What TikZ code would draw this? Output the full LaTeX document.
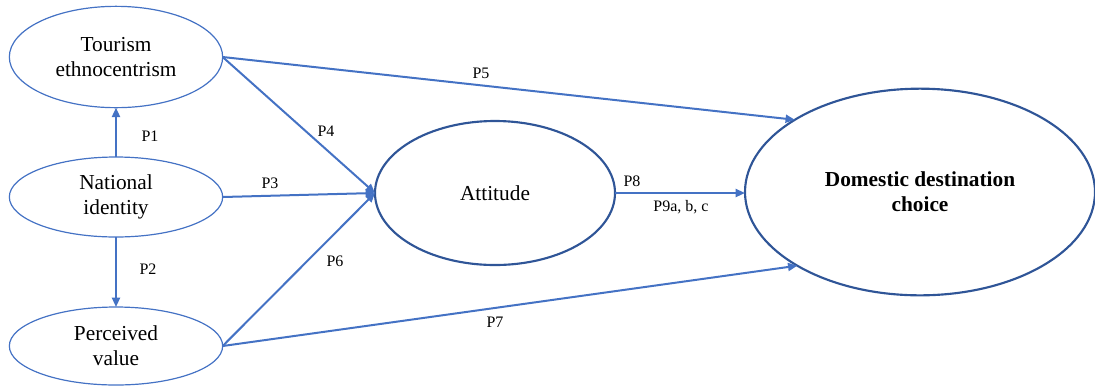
\documentclass[tikz,border=0pt]{standalone}
\usepackage{fontspec}
\setmainfont{Liberation Serif}
\usetikzlibrary{shapes.geometric,arrows.meta}
\definecolor{linecol}{RGB}{68,114,196}
\definecolor{darkcol}{RGB}{47,85,151}
\tikzset{
  smallell/.style={ellipse, draw=linecol, line width=0.9pt, inner sep=0pt, outer sep=0pt, align=center, font=\fontsize{16}{19}\selectfont},
  bigell/.style={ellipse, draw=darkcol, line width=1.6pt, inner sep=0pt, outer sep=0pt, align=center, font=\fontsize{16}{19}\selectfont},
  conn/.style={draw=linecol, line width=1.5pt, -{Triangle[length=7pt,width=6pt]}},
  lab/.style={font=\fontsize{12}{14}\selectfont, inner sep=0pt}
}
\begin{document}
\begin{tikzpicture}[x=0.75pt,y=-0.75pt]
\useasboundingbox (0,0) rectangle (1095,387);
\node[smallell, minimum width=160pt, minimum height=76pt] (TE) at (116,57) {Tourism\\ethnocentrism};
\node[smallell, minimum width=160pt, minimum height=60pt] (NI) at (116,197) {National\\identity};
\node[smallell, minimum width=160pt, minimum height=58.5pt] (PV) at (116,346) {Perceived\\value};
\node[bigell, minimum width=180pt, minimum height=108pt] (A) at (495,193) {Attitude};
\node[bigell, minimum width=262.5pt, minimum height=155pt, font=\fontsize{16}{19}\selectfont\bfseries] (D) at (920,192) {Domestic destination\\choice};
\draw[conn] (NI.north) -- (TE.south);
\draw[conn] (NI.south) -- (PV.north);
\draw[conn] (NI.east) -- (A.west);
\draw[conn] (TE.east) -- (A.west);
\draw[conn] (PV.east) -- (A.west);
\draw[conn] (TE.east) -- (D.150);
\draw[conn] (PV.east) -- (D.211);
\draw[conn] (A.east) -- (A.east -| D.west);
\node[lab] (l1) at (150,136) {P1};
\node[lab] (l2) at (148,269) {P2};
\node[lab] (l3) at (270,183) {P3};
\node[lab] (l4) at (326,131) {P4};
\node[lab] (l5) at (481,73) {P5};
\node[lab] (l6) at (335,261) {P6};
\node[lab] (l7) at (495,322) {P7};
\node[lab] (l8) at (632,181) {P8};
\node[lab] (l9) at (681,207) {P9a, b, c};
\end{tikzpicture}
\end{document}
